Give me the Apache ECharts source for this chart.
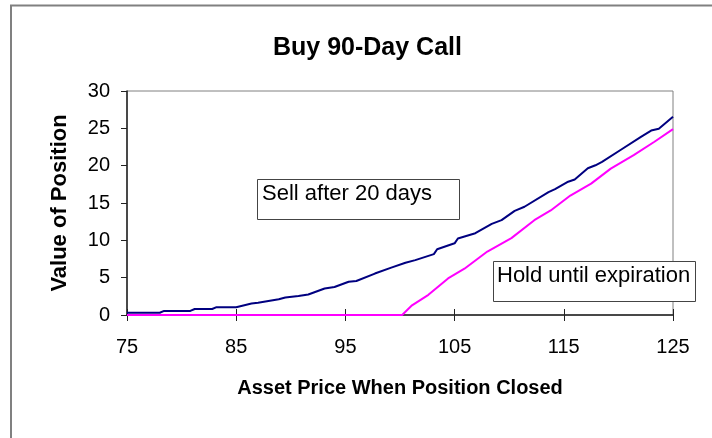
<!DOCTYPE html>
<html>
<head>
<meta charset="utf-8">
<script src="https://cdn.jsdelivr.net/npm/echarts@6/dist/echarts.min.js"></script>
<style>
  html, body { margin: 0; padding: 0; background: #fff; }
  #chart { width: 712px; height: 438px; }
</style>
</head>
<body>
<div id="chart"></div>
<script>
// asset price / value pairs
const callPrices = [75, 78.0, 78.4, 80.8, 81.2, 82.8, 83.2, 85, 86.4, 87, 88.9, 89.5, 90.7, 91.6,
  93.1, 94.0, 95.3, 96.0, 97.7, 99.2, 100.5, 101.4, 103.1, 103.4, 105.0, 105.3, 106.9, 108.4,
  109.3, 110.5, 111.4, 113.6, 114.2, 115.4, 116.0, 117.2, 117.9, 118.5, 120.3, 122.1, 123.0,
  123.7, 125];
const callValues = [0.3, 0.3, 0.55, 0.55, 0.8, 0.8, 1.05, 1.05, 1.55, 1.65, 2.1, 2.35, 2.55, 2.75,
  3.55, 3.75, 4.45, 4.55, 5.55, 6.35, 7.0, 7.35, 8.15, 8.8, 9.6, 10.25, 10.95, 12.2,
  12.7, 13.95, 14.5, 16.45, 16.85, 17.85, 18.15, 19.65, 20.05, 20.5, 22.2, 23.9, 24.7,
  24.95, 26.55];

const holdPrices = [75, 100.2, 101.1, 102.6, 104.4, 105.9, 108.0, 110.2, 112.3, 113.8, 115.6,
  117.5, 119.3, 121.4, 123.3, 125];
const holdValues = [0, 0, 1.3, 2.7, 4.9, 6.2, 8.5, 10.3, 12.7, 14.0, 16.0,
  17.6, 19.6, 21.4, 23.2, 24.9];

const xTicks = [75, 85, 95, 105, 115, 125];
const yTicks = [0, 5, 10, 15, 20, 25, 30];

const FONT = '"Liberation Sans", Arial, sans-serif';

const chart = echarts.init(document.getElementById('chart'), null, { renderer: 'canvas' });

function pairs(xs, ys) {
  return xs.map((x, i) => [x, ys[i]]);
}

const option = {
  backgroundColor: '#ffffff',
  animation: false,
  title: {
    text: 'Buy 90-Day Call',
    left: 268,
    top: 31,
    textStyle: { fontFamily: FONT, fontSize: 25, fontWeight: 'bold', color: '#000' }
  },
  grid: [
    { left: 127, top: 91, width: 546, height: 224, show: true, borderColor: '#808080', borderWidth: 1, backgroundColor: 'transparent' },
    { left: 127, top: 91, width: 546, height: 224, show: false }
  ],
  xAxis: [{
    type: 'value',
    gridIndex: 0,
    min: xTicks[0],
    max: xTicks[xTicks.length - 1],
    interval: 10,
    name: 'Asset Price When Position Closed',
    nameLocation: 'middle',
    nameGap: 63,
    nameTextStyle: { fontFamily: FONT, fontSize: 20, fontWeight: 'bold', color: '#000' },
    axisLine: { lineStyle: { color: '#222', width: 1.5 } },
    axisTick: { length: 6, lineStyle: { color: '#222' } },
    axisLabel: { fontFamily: FONT, fontSize: 20, color: '#000', margin: 22 },
    splitLine: { show: false }
  }, {
    // inner half of the crossing x ticks
    type: 'value',
    gridIndex: 1,
    min: xTicks[0],
    max: xTicks[xTicks.length - 1],
    interval: 10,
    axisLine: { show: false },
    axisTick: { inside: true, length: 6, lineStyle: { color: '#222' } },
    axisLabel: { show: false },
    splitLine: { show: false }
  }],
  yAxis: [{
    type: 'value',
    gridIndex: 0,
    min: yTicks[0],
    max: yTicks[yTicks.length - 1],
    interval: 5,
    name: 'Value of Position',
    nameLocation: 'middle',
    nameGap: 56,
    nameTextStyle: { fontFamily: FONT, fontSize: 22, fontWeight: 'bold', color: '#000' },
    axisLine: { show: true, lineStyle: { color: '#222', width: 1.5 } },
    axisTick: { show: true, length: 6, lineStyle: { color: '#222' } },
    axisLabel: { fontFamily: FONT, fontSize: 20, color: '#000', margin: 17 },
    splitLine: { show: false }
  }, {
    type: 'value',
    gridIndex: 1,
    min: 0,
    max: 30,
    show: false
  }],
  series: [{
    name: 'Sell after 20 days',
    type: 'line',
    xAxisIndex: 0,
    yAxisIndex: 0,
    data: pairs(callPrices, callValues),
    showSymbol: false,
    lineStyle: { color: '#000080', width: 2 },
    itemStyle: { color: '#000080' },
    z: 3
  }, {
    name: 'Hold until expiration',
    type: 'line',
    xAxisIndex: 0,
    yAxisIndex: 0,
    data: pairs(holdPrices, holdValues),
    showSymbol: false,
    lineStyle: { color: '#ff00ff', width: 2 },
    itemStyle: { color: '#ff00ff' },
    z: 4
  }],
  graphic: [{
    type: 'rect',
    z: 1,
    silent: true,
    shape: { x: 11, y: 5.5, width: 800, height: 500 },
    style: { fill: null, stroke: '#808080', lineWidth: 2 }
  }, {
    type: 'group',
    z: 100,
    children: [{
      type: 'rect',
      shape: { x: 257.5, y: 179.5, width: 202, height: 40 },
      style: { fill: '#fff', stroke: '#444', lineWidth: 1 }
    }, {
      type: 'text',
      x: 262,
      y: 183,
      style: { text: 'Sell after 20 days', fontFamily: FONT, fontSize: 22, fill: '#000', textVerticalAlign: 'top' }
    }, {
      type: 'rect',
      shape: { x: 493.5, y: 261.5, width: 202, height: 40 },
      style: { fill: '#fff', stroke: '#444', lineWidth: 1 }
    }, {
      type: 'text',
      x: 497,
      y: 265,
      style: { text: 'Hold until expiration', fontFamily: FONT, fontSize: 22, fill: '#000', textVerticalAlign: 'top' }
    }]
  }]
};

chart.setOption(option);
</script>
</body>
</html>
